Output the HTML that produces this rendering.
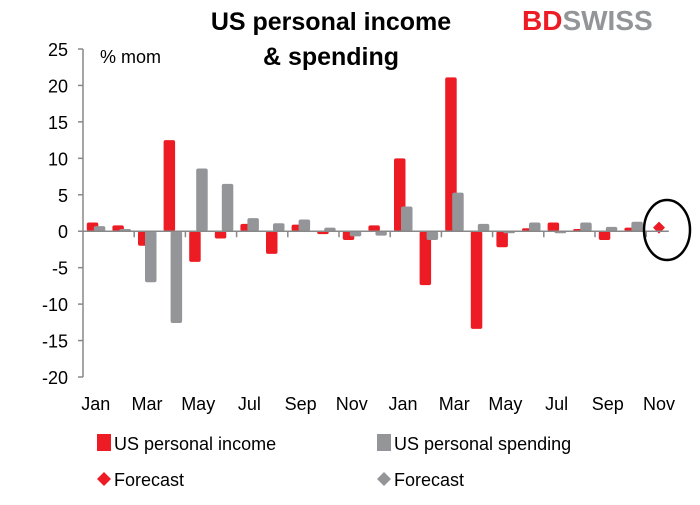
<!DOCTYPE html>
<html><head><meta charset="utf-8"><style>
body{margin:0;background:#fff;font-family:"Liberation Sans",Arial,sans-serif}
svg text{font-family:"Liberation Sans",Arial,sans-serif}
</style></head><body>
<svg id="c" width="700" height="500">
<text x="331" y="30" text-anchor="middle" font-size="25" font-weight="bold">US personal income</text>
<text x="331" y="65" text-anchor="middle" font-size="25" font-weight="bold">&amp; spending</text>
<text x="522" y="30" font-size="28" font-weight="bold"><tspan fill="#ed1c24">BD</tspan><tspan fill="#939598">SWISS</tspan></text>
<text x="100" y="63" font-size="18">% mom</text>
<g id="axes"></g><g id="bars"></g>
<ellipse cx="667" cy="230" rx="23" ry="30" fill="none" stroke="#000" stroke-width="2.5"/>
<g>
<rect x="97" y="434" width="14" height="17" fill="#ed1c24"/>
<text x="114" y="450" font-size="18">US personal income</text>
<rect x="377" y="434" width="14" height="17" fill="#939598"/>
<text x="394" y="450" font-size="18">US personal spending</text>
<path d="M104 472 L111 479 L104 486 L97 479Z" fill="#ed1c24"/>
<text x="114" y="486" font-size="18">Forecast</text>
<path d="M384 472 L391 479 L384 486 L377 479Z" fill="#939598"/>
<text x="394" y="486" font-size="18">Forecast</text>
</g>
</svg>
<script>
const categories=["Jan","Feb","Mar","Apr","May","Jun","Jul","Aug","Sep","Oct","Nov","Dec","Jan","Feb","Mar","Apr","May","Jun","Jul","Aug","Sep","Oct","Nov"];
const income=[1.2,0.8,-2.0,12.5,-4.2,-1.0,1.0,-3.1,0.9,-0.4,-1.2,0.8,10.0,-7.4,21.1,-13.4,-2.2,0.4,1.2,0.3,-1.2,0.5,null];
const spending=[0.7,0.3,-7.0,-12.6,8.6,6.5,1.8,1.1,1.6,0.5,-0.7,-0.6,3.4,-1.2,5.3,1.0,0.0,1.2,-0.1,1.2,0.6,1.3,null];
const forecastIncome=[null,null,null,null,null,null,null,null,null,null,null,null,null,null,null,null,null,null,null,null,null,null,0.5];
const yTicks=[25,20,15,10,5,0,-5,-10,-15,-20];
const NS="http://www.w3.org/2000/svg";
const x0=83,cw=25.6,yTop=49,yBot=377,ymax=25,ymin=-20;
const y=v=>yTop+(ymax-v)/(ymax-ymin)*(yBot-yTop);
const xs=i=>x0+i*cw;
function mk(t,a,p){const e=document.createElementNS(NS,t);for(const k in a)e.setAttribute(k,a[k]);p.appendChild(e);return e;}
const ax=document.getElementById('axes'),bg=document.getElementById('bars');
const yl=mk('line',{x1:x0,x2:x0,y1:yTop,y2:yBot,stroke:'#888','stroke-width':1.5},ax);


yTicks.forEach(v=>{
 const tk=mk('line',{x1:x0-5,x2:x0,y1:y(v),y2:y(v),stroke:'#888','stroke-width':1.5},ax);
 
 
 const t=mk('text',{x:68,y:y(v)+7,'text-anchor':'end','font-size':18},ax);
 t.textContent=v;
 
 
});
categories.forEach((c,i)=>{
 const cx=xs(i)+cw/2;
 if(income[i]!==null){
  const a=income[i],t=Math.min(y(a),y(0)),h=Math.max(Math.abs(y(a)-y(0)),2);
  const r=mk('rect',{x:cx-9,y:t,width:11.5,height:h,rx:2,fill:'#ed1c24'},bg);
  
  
 }
 if(spending[i]!==null){
  const a=spending[i],t=Math.min(y(a),y(0)),h=Math.max(Math.abs(y(a)-y(0)),2);
  const r=mk('rect',{x:cx-2,y:t,width:11.5,height:h,rx:2,fill:'#939598'},bg);
  
  
 }
 if(forecastIncome[i]!==null){
  const fy=y(forecastIncome[i]);
  const d=mk('path',{d:`M${cx} ${fy-6} L${cx+6} ${fy} L${cx} ${fy+6} L${cx-6} ${fy}Z`,fill:'#ed1c24'},bg);
  
  
 }
 if(i%2===0){
  const t=mk('text',{x:cx,y:410,'text-anchor':'middle','font-size':18},ax);
  t.textContent=c;
  
  
 }
 if(i%2===0&&i>0){
  const tk=mk('line',{x1:xs(i),x2:xs(i),y1:y(0),y2:y(0)+6,stroke:'#888','stroke-width':1.5},ax);
  
  
 }
});
const zl=mk('line',{x1:x0,x2:xs(categories.length)-3,y1:y(0),y2:y(0),stroke:'#888','stroke-width':1.5},bg);


</script>
</body></html>
